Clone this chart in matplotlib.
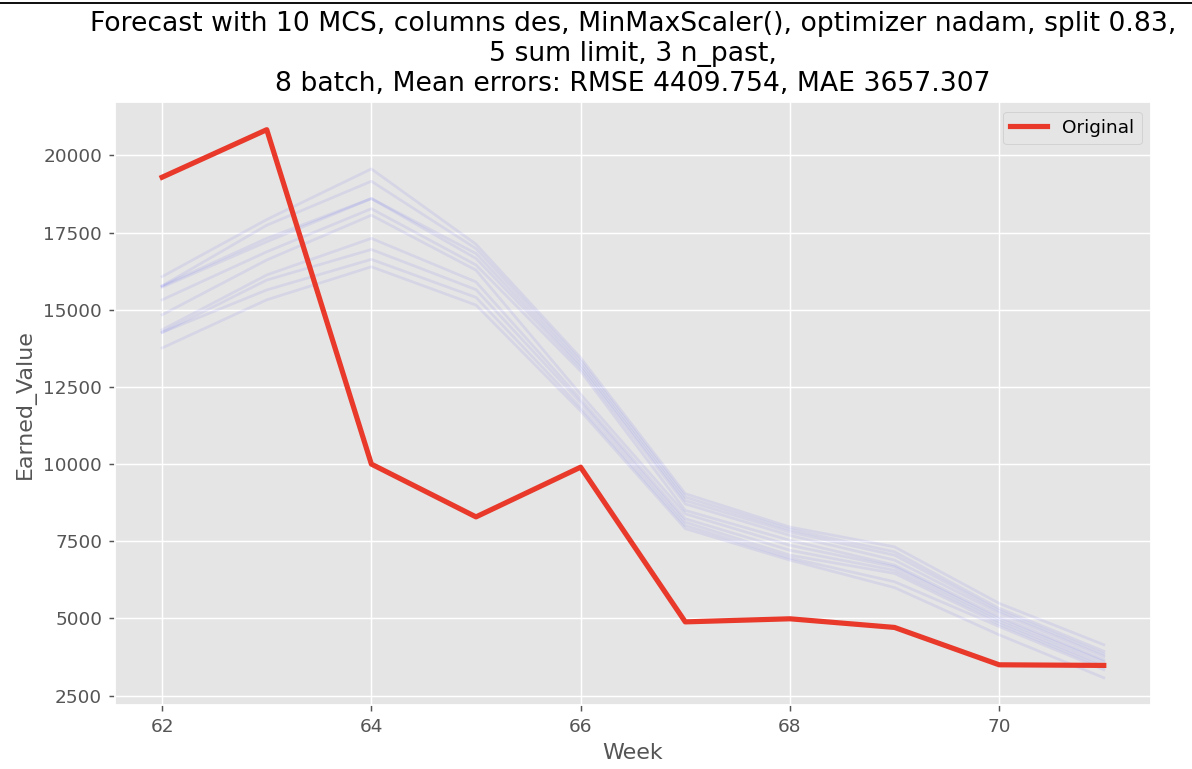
import matplotlib
matplotlib.use("Agg")
import matplotlib.pyplot as plt

# weeks on the x axis
weeks = [62, 63, 64, 65, 66, 67, 68, 69, 70, 71]

# original earned value
original = [19290, 20830, 10000, 8290, 9900, 4890, 4990, 4710, 3500, 3480]

# the 10 monte carlo forecasts (faint lines)
mcs_runs = [
    [16070, 17920, 19560, 17120, 13440, 9040, 7960, 7320, 5490, 4150],
    [15770, 17735, 19160, 16980, 13330, 8930, 7880, 7160, 5330, 3940],
    [15770, 17310, 18600, 16820, 13220, 8820, 7800, 7050, 5250, 3850],
    [15730, 17200, 18600, 16660, 13120, 8710, 7690, 6890, 5170, 3770],
    [15320, 16875, 18270, 16450, 13010, 8500, 7530, 6730, 5060, 3660],
    [14835, 16610, 18060, 16280, 12260, 8390, 7370, 6670, 4980, 3600],
    [14350, 16125, 17310, 15900, 12100, 8230, 7210, 6560, 4900, 3500],
    [14265, 15960, 16950, 15650, 11990, 8120, 7050, 6460, 4820, 3420],
    [14265, 15640, 16630, 15400, 11830, 8010, 6960, 6190, 4740, 3340],
    [13760, 15320, 16390, 15150, 11720, 7910, 6890, 6000, 4470, 3080],
]

title = ("Forecast with 10 MCS, columns des, MinMaxScaler(), optimizer nadam, split 0.83,\n"
         "5 sum limit, 3 n_past,\n"
         "8 batch, Mean errors: RMSE 4409.754, MAE 3657.307")

DPI = 133
plt.style.use("ggplot")
fig = plt.figure(figsize=(1192 / DPI, 769 / DPI), dpi=DPI)
ax = fig.add_axes([0.0965, 0.083, 0.869, 0.784])

for run in mcs_runs:
    ax.plot(weeks, run, color="blue", alpha=0.065, linewidth=1.5)

ax.plot(weeks, original, color="#E8392B", linewidth=2.8, label="Original")

ax.set_title(title, color="black", fontsize=14.4)
ax.set_xlabel("Week")
ax.set_ylabel("Earned_Value")
ax.legend(loc="upper right")

# black border line at the top of the screenshot
fig.add_artist(plt.Line2D([0, 1], [0.996, 0.996], transform=fig.transFigure,
                          color="black", linewidth=1))

fig.savefig("out.png", dpi=DPI)
